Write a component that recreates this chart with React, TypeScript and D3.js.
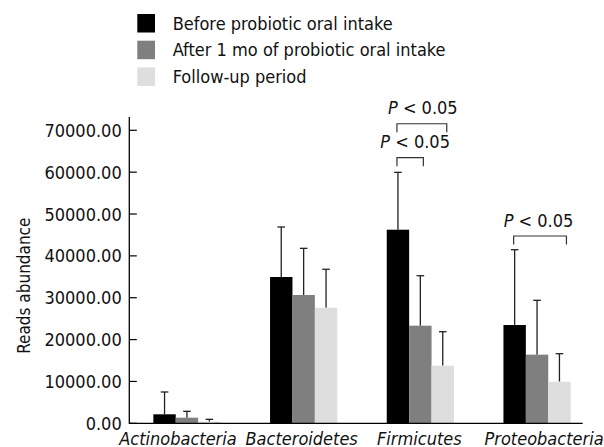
import React from "react";
import * as d3 from "d3";

const categories = ["Actinobacteria", "Bacteroidetes", "Firmicutes", "Proteobacteria"];
const seriesNames = [
  "Before probiotic oral intake",
  "After 1 mo of probiotic oral intake",
  "Follow-up period",
];
const beforeValues = [2150, 34950, 46250, 23480];
const afterValues = [1340, 30650, 23320, 16400];
const followValues = [380, 27600, 13760, 9940];
const beforeErrors = [5330, 11950, 13710, 17990];
const afterErrors = [1520, 11150, 11940, 12980];
const followErrors = [570, 9200, 8120, 6690];
const yTicks = [0, 10000, 20000, 30000, 40000, 50000, 60000, 70000];
// brackets: category index, from series, to series, level value
const brackets = [
  { cat: 2, from: 0, to: 1, level: 63450, label: "P < 0.05" },
  { cat: 2, from: 0, to: 2, level: 71570, label: "P < 0.05" },
  { cat: 3, from: 0, to: 2, level: 44745, label: "P < 0.05" },
];

const colors = ["#000000", "#7f7f7f", "#dedede"];
const FONT = "'DejaVu Sans Condensed', 'DejaVu Sans', sans-serif";

export default function App() {
  const W = 604, H = 447;
  const y = d3.scaleLinear().domain([0, 70000]).range([423.3, 130.3]);
  const x = d3.scaleBand<string>().domain(categories).range([128.6, 595.4]).padding(0);
  const bw = 22.4;
  const values = [beforeValues, afterValues, followValues];
  const errors = [beforeErrors, afterErrors, followErrors];
  const barX = (ci: number, si: number) =>
    (x(categories[ci]) as number) + x.bandwidth() / 2 - 1.5 * bw + si * bw;
  const labelShift = [-9, -2, -1, 7];
  const textShift = [5, 1, -1.5];
  const bracketEnd = [-1, 0, 3];

  return (
    <svg width={W} height={H} style={{ position: "absolute", left: 0, top: 0, fontFamily: FONT, fontStretch: "condensed" }}>
      <rect x={0} y={0} width={W} height={H} fill="#fff" />
      {/* legend */}
      {seriesNames.map((n, i) => (
        <g key={n} transform={`translate(137.3, ${14 + i * 26.7})`}>
          <rect width={17.7} height={18.5} fill={colors[i]} />
          <text x={35.4} y={15.5} fontSize={18} fill="#111">{n}</text>
        </g>
      ))}
      {/* y axis */}
      <line x1={129.3} x2={129.3} y1={117} y2={y(0) + 0.5} stroke="#000" strokeWidth={1.3} />
      {yTicks.map((t) => (
        <g key={t}>
          <line x1={129.3} x2={136.8} y1={y(t)} y2={y(t)} stroke="#000" strokeWidth={1.2} />
          <text x={121.7} y={y(t) + 6.5} textAnchor="end" fontSize={18} fill="#111">
            {d3.format(".2f")(t)}
          </text>
        </g>
      ))}
      <text transform={`translate(29.5, 285.7) rotate(-90)`} textAnchor="middle" fontSize={17} fill="#111">
        Reads abundance
      </text>
      {/* bars */}
      {values.map((vals, si) =>
        vals.map((v, ci) => {
          const bx = barX(ci, si);
          const cx = bx + bw / 2;
          const top = y(v + errors[si][ci]);
          return (
            <g key={`${si}-${ci}`}>
              <line x1={cx} x2={cx} y1={y(v)} y2={top} stroke="#222" strokeWidth={1.3} />
              <line x1={cx - 3.8} x2={cx + 3.8} y1={top} y2={top} stroke="#222" strokeWidth={1.3} />
              <rect x={bx} y={y(v)} width={bw} height={y(0) - y(v)} fill={colors[si]} />
            </g>
          );
        })
      )}
      {/* x axis */}
      <line x1={129.3} x2={582.7} y1={y(0)} y2={y(0)} stroke="#000" strokeWidth={1.3} />
      {categories.map((c, ci) => (
        <text key={c} x={(x(c) as number) + x.bandwidth() / 2 + labelShift[ci]} y={444.5}
          textAnchor="middle" fontSize={18} fontStyle="italic" fill="#111">{c}</text>
      ))}
      {/* significance brackets */}
      {brackets.map((b, i) => {
        const x1 = barX(b.cat, b.from) + bw / 2 - 1;
        const x2 = barX(b.cat, b.to) + bw / 2 + 4 + bracketEnd[i];
        const yy = y(b.level);
        return (
          <g key={i}>
            <path d={`M${x1},${yy + 8.5}V${yy}H${x2}V${yy + 8.5}`} fill="none" stroke="#333" strokeWidth={1.2} />
            <text x={(x1 + x2) / 2 + textShift[i]} y={yy - 9.5} textAnchor="middle" fontSize={18} fill="#111">
              <tspan fontStyle="italic">P</tspan> &lt; 0.05
            </text>
          </g>
        );
      })}
    </svg>
  );
}
